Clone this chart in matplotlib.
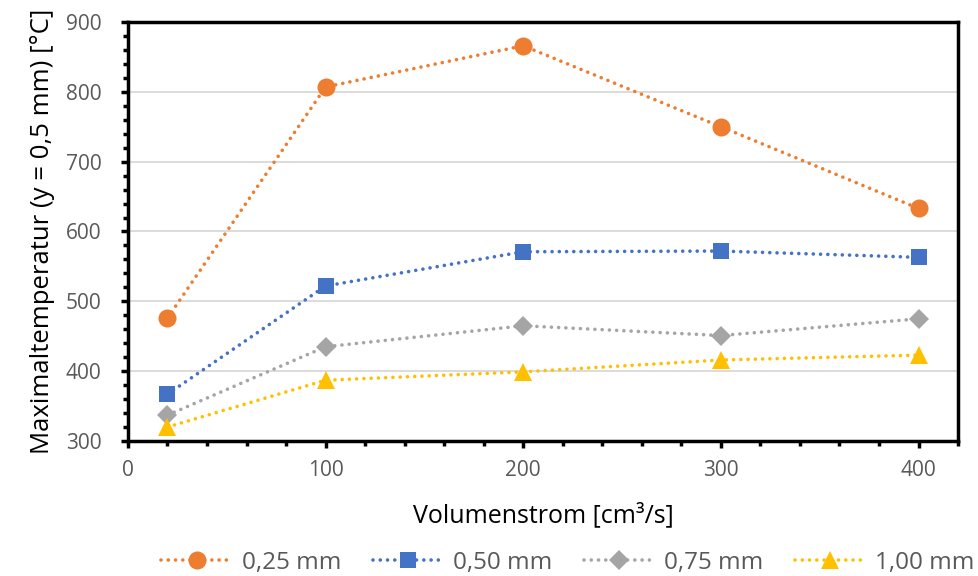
import matplotlib
matplotlib.use("Agg")
import matplotlib.pyplot as plt
from matplotlib.ticker import MultipleLocator

plt.rcParams['font.family'] = ['Open Sans', 'DejaVu Sans']

volumenstrom = [20, 100, 200, 300, 400]
t_025 = [476, 807, 866, 750, 633]
t_050 = [367, 522, 571, 572, 563]
t_075 = [337, 435, 465, 451, 475]
t_100 = [320, 387, 399, 416, 423]

labels = ["0,25 mm", "0,50 mm", "0,75 mm", "1,00 mm"]
colors = ["#ED7D31", "#4472C4", "#A5A5A5", "#FFC000"]
markers = ["o", "s", "D", "^"]
msizes = [13, 12, 10.5, 13]

fig = plt.figure(figsize=(9.79, 5.76), dpi=100)
ax = fig.add_axes([0.1307, 0.2344, 0.8479, 0.7274])

dotted = (0, (0.01, 2.0))
for y, lab, c, m, ms in zip([t_025, t_050, t_075, t_100], labels, colors, markers, msizes):
    ax.plot(volumenstrom, y, linestyle=dotted, dash_capstyle='round',
            linewidth=2.6, color=c, marker=m, markersize=ms, label=lab,
            markeredgewidth=0, zorder=3)

ax.set_xlim(0, 420)
ax.set_ylim(300, 900)
ax.xaxis.set_major_locator(MultipleLocator(100))
ax.xaxis.set_minor_locator(MultipleLocator(20))
ax.yaxis.set_major_locator(MultipleLocator(100))
ax.yaxis.set_minor_locator(MultipleLocator(20))

ax.grid(axis='y', which='major', color='#D9D9D9', linewidth=1.3, zorder=0)
ax.set_axisbelow(True)

for s in ax.spines.values():
    s.set_linewidth(2.5)
    s.set_color('black')

ax.tick_params(axis='both', which='major', direction='out', length=5, width=2.5,
               color='black', labelsize=15, labelcolor='#595959')
ax.tick_params(axis='y', which='major', pad=14)
ax.tick_params(axis='x', which='major', pad=9)
ax.tick_params(axis='both', which='minor', direction='out', length=3.6, width=2.5,
               color='black')

ax.set_xlabel("Volumenstrom [cm³/s]", fontsize=18, color='black', labelpad=15)
ax.set_ylabel("Maximaltemperatur (y = 0,5 mm) [°C]", fontsize=18.5, color='black', labelpad=8)

leg = fig.legend(loc='center', bbox_to_anchor=(0.58, 0.023), ncol=4,
                 frameon=False, fontsize=17.5, handlelength=2.9, columnspacing=1.3,
                 handletextpad=0.4, labelcolor='#595959')

fig.savefig("out.png", dpi=100)
